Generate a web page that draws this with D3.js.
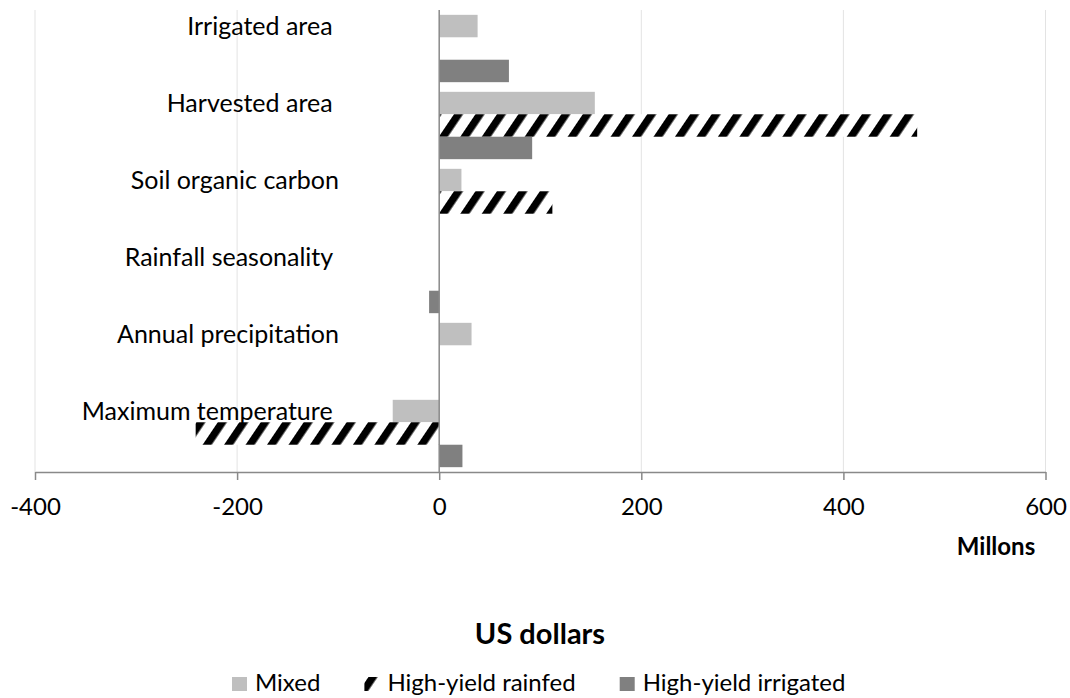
<!DOCTYPE html>
<meta charset="utf-8">
<script src="https://d3js.org/d3.v7.min.js"></script>
<style>
    body { margin: 0; background: #fff; }
    text { font-family: Lato, "Open Sans", sans-serif; fill: #000; }
</style>
<svg id="chart"></svg>
<script>
    // Categories top to bottom (trailing spaces are in the source labels)
    var categories = ["Irrigated area ", "Harvested area ", "Soil organic carbon", "Rainfall seasonality ", "Annual precipitation", "Maximum temperature "];
    var series = ["Mixed", "High-yield rainfed", "High-yield irrigated"];
    // values in millions of US dollars
    var mixed = [38, 154, 22, 0, 32, -46];
    var rainfed = [0, 473, 112, 0, 0, -241];
    var irrigated = [69, 92, 0, -10, 0, 23];
    var xTicks = [-400, -200, 0, 200, 400, 600];

    var width = 1070, height = 698;
    var svg = d3.select("#chart").attr("width", width).attr("height", height);

    // hatch for the rainfed series
    var pat = svg.append("defs").append("pattern")
        .attr("id", "hatch")
        .attr("patternUnits", "userSpaceOnUse")
        .attr("width", 17.8)
        .attr("height", 17.8)
        .attr("patternTransform", "rotate(34)");
    pat.append("rect").attr("width", 17.8).attr("height", 17.8).attr("fill", "#fff");
    pat.append("rect").attr("width", 7.5).attr("height", 17.8).attr("fill", "#000");

    var fills = { "Mixed": "#bfbfbf", "High-yield rainfed": "url(#hatch)", "High-yield irrigated": "#808080" };

    var x = d3.scaleLinear().domain([-400, 600]).range([35, 1045.5]);
    var y = d3.scaleBand().domain(categories).range([10, 472]);
    var inner = d3.scaleBand().domain(series).range([0, y.bandwidth()]).paddingOuter(0.215);

    var rows = categories.map(function(c, i) {
        return { cat: c, values: [mixed[i], rainfed[i], irrigated[i]] };
    });

    // gridlines
    svg.append("g").selectAll("line")
        .data(xTicks.filter(function(d) { return d !== 0; }))
        .enter().append("line")
        .attr("x1", function(d) { return x(d); })
        .attr("x2", function(d) { return x(d); })
        .attr("y1", 10)
        .attr("y2", 472)
        .attr("stroke", "#e3e3e3")
        .attr("stroke-width", 1);

    // bars
    var group = svg.append("g").selectAll("g")
        .data(rows)
        .enter().append("g")
        .attr("transform", function(d) { return "translate(0," + y(d.cat) + ")"; });

    group.selectAll("rect")
        .data(function(d) {
            return d.values.map(function(v, j) { return { s: series[j], v: v }; });
        })
        .enter().append("rect")
        .attr("x", function(d) { return x(Math.min(0, d.v)); })
        .attr("width", function(d) { return Math.abs(x(d.v) - x(0)); })
        .attr("y", function(d) { return inner(d.s); })
        .attr("height", inner.bandwidth())
        .attr("fill", function(d) { return fills[d.s]; });

    // zero line
    svg.append("line")
        .attr("x1", x(0)).attr("x2", x(0))
        .attr("y1", 10).attr("y2", 472)
        .attr("stroke", "#898989")
        .attr("stroke-width", 1.5);

    // x axis (plain hyphen for negatives, like the original)
    var axis = svg.append("g")
        .attr("transform", "translate(0,472)")
        .call(d3.axisBottom(x).tickValues(xTicks).tickSize(8).tickSizeOuter(0)
            .tickFormat(function(d) { return String(d); }));
    axis.select(".domain").attr("stroke", "#898989").attr("stroke-width", 1.5);
    axis.selectAll(".tick line").attr("stroke", "#898989").attr("stroke-width", 1.5);
    axis.selectAll(".tick text")
        .attr("y", 35)
        .attr("dy", "0.35em")
        .style("font-size", "24px")
        .style("font-family", "Lato, sans-serif")
        .attr("fill", "#000");

    // category labels, next to the first bar of each group
    svg.append("g").selectAll("text")
        .data(categories)
        .enter().append("text")
        .attr("x", 339)
        .attr("y", function(d) { return y(d) + inner("Mixed") + inner.bandwidth() / 2; })
        .attr("dy", "0.35em")
        .attr("text-anchor", "end")
        .style("white-space", "pre")
        .style("font-size", "25px")
        .text(function(d) { return d; });

    // axis titles
    svg.append("text")
        .attr("x", 996).attr("y", 547).attr("dy", "0.35em")
        .attr("text-anchor", "middle")
        .style("font-size", "24px").style("font-weight", "bold")
        .text("Millons");

    svg.append("text")
        .attr("x", 540).attr("y", 634).attr("dy", "0.35em")
        .attr("text-anchor", "middle")
        .style("font-size", "29px").style("font-weight", "bold")
        .text("US dollars");

    // legend
    var legend = svg.append("g").attr("transform", "translate(232,683)");
    var lx = 0;
    series.forEach(function(s) {
        var item = legend.append("g").attr("transform", "translate(" + lx + ",0)");
        item.append("rect")
            .attr("x", 0).attr("y", -6)
            .attr("width", 15).attr("height", 14)
            .attr("fill", fills[s]);
        var t = item.append("text")
            .attr("x", 23).attr("y", 0).attr("dy", "0.35em")
            .style("font-size", "24px")
            .text(s);
        lx += 23 + t.node().getComputedTextLength() + 44;
    });
</script>
